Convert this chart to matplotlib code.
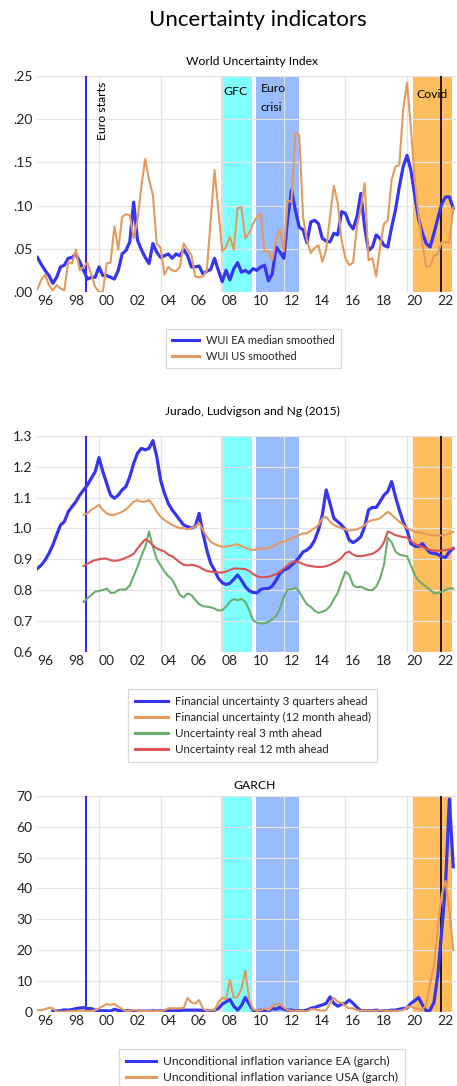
import numpy as np
import matplotlib.pyplot as plt
from matplotlib.lines import Line2D

plt.rcParams['font.family'] = ['Lato', 'DejaVu Sans']

# ---- data (quarterly) ----
wui_start = 1996.0
wui_ea = [0.040, 0.032, 0.025, 0.019,
          0.010, 0.017, 0.029, 0.031,
          0.039, 0.040, 0.044, 0.035,
          0.025, 0.015, 0.017, 0.017,
          0.029, 0.019, 0.019, 0.017,
          0.015, 0.025, 0.044, 0.048,
          0.058, 0.104, 0.060, 0.049,
          0.040, 0.033, 0.056, 0.046,
          0.040, 0.042, 0.044, 0.039,
          0.044, 0.042, 0.049, 0.042,
          0.029, 0.029, 0.030, 0.021,
          0.024, 0.026, 0.039, 0.025,
          0.012, 0.025, 0.014, 0.027,
          0.034, 0.023, 0.025, 0.022,
          0.027, 0.025, 0.029, 0.031,
          0.013, 0.021, 0.052, 0.046,
          0.039, 0.085, 0.118, 0.095,
          0.075, 0.072, 0.057, 0.081,
          0.083, 0.079, 0.062, 0.059,
          0.058, 0.068, 0.066, 0.093,
          0.091, 0.079, 0.073, 0.087,
          0.114, 0.075, 0.048, 0.052,
          0.066, 0.062, 0.054, 0.052,
          0.075, 0.095, 0.122, 0.145,
          0.158, 0.141, 0.112, 0.085,
          0.068, 0.056, 0.052, 0.068,
          0.085, 0.102, 0.110, 0.110,
          0.097]
wui_us = [0.003, 0.014, 0.020, 0.008,
          0.002, 0.008, 0.004, 0.002,
          0.035, 0.033, 0.049, 0.025,
          0.029, 0.034, 0.020, 0.006,
          0.000, 0.000, 0.033, 0.034,
          0.076, 0.049, 0.087, 0.090,
          0.089, 0.062, 0.083, 0.122,
          0.154, 0.130, 0.112, 0.056,
          0.051, 0.020, 0.029, 0.025,
          0.024, 0.029, 0.056, 0.049,
          0.043, 0.018, 0.017, 0.018,
          0.025, 0.083, 0.141, 0.095,
          0.047, 0.052, 0.064, 0.049,
          0.097, 0.098, 0.062, 0.068,
          0.079, 0.087, 0.091, 0.047,
          0.047, 0.037, 0.060, 0.072,
          0.047, 0.106, 0.104, 0.184,
          0.182, 0.087, 0.060, 0.045,
          0.051, 0.054, 0.035, 0.049,
          0.087, 0.123, 0.103, 0.060,
          0.039, 0.031, 0.034, 0.076,
          0.097, 0.126, 0.037, 0.039,
          0.018, 0.052, 0.079, 0.083,
          0.130, 0.145, 0.147, 0.211,
          0.242, 0.190, 0.130, 0.090,
          0.055, 0.029, 0.030, 0.042,
          0.044, 0.058, 0.058, 0.057,
          0.098]

fin_3q_start = 1996.0
fin_3q = [0.870, 0.881, 0.897, 0.919,
          0.946, 0.979, 1.011, 1.022,
          1.054, 1.071, 1.087, 1.108,
          1.125, 1.141, 1.163, 1.184,
          1.230, 1.184, 1.146, 1.108,
          1.098, 1.108, 1.125, 1.136,
          1.168, 1.211, 1.244, 1.260,
          1.255, 1.260, 1.285, 1.233,
          1.157, 1.114, 1.081, 1.060,
          1.044, 1.027, 1.011, 1.006,
          1.001, 1.006, 1.049, 0.984,
          0.930, 0.887, 0.865, 0.838,
          0.824, 0.818, 0.822, 0.835,
          0.849, 0.832, 0.811, 0.798,
          0.792, 0.791, 0.802, 0.805,
          0.805, 0.813, 0.832, 0.854,
          0.865, 0.870, 0.881, 0.892,
          0.906, 0.924, 0.930, 0.941,
          0.962, 0.995, 1.044, 1.125,
          1.081, 1.033, 1.022, 1.011,
          0.995, 0.962, 0.954, 0.962,
          0.973, 1.006, 1.060, 1.068,
          1.068, 1.087, 1.108, 1.120,
          1.152, 1.103, 1.060, 1.022,
          0.995, 0.951, 0.943, 0.941,
          0.951, 0.935, 0.921, 0.919,
          0.916, 0.908, 0.906, 0.924,
          0.935]

jln_start = 1999.0
fin_12m = [1.044, 1.049, 1.060, 1.068,
           1.076, 1.060, 1.049, 1.044,
           1.044, 1.049, 1.054, 1.062,
           1.073, 1.087, 1.092, 1.087,
           1.087, 1.092, 1.076, 1.054,
           1.038, 1.027, 1.019, 1.011,
           1.006, 1.001, 1.001, 0.997,
           1.001, 1.006, 1.017, 0.995,
           0.973, 0.957, 0.949, 0.944,
           0.941, 0.941, 0.943, 0.946,
           0.949, 0.943, 0.937, 0.932,
           0.930, 0.932, 0.935, 0.935,
           0.935, 0.941, 0.946, 0.955,
           0.957, 0.962, 0.968, 0.973,
           0.979, 0.984, 0.984, 0.993,
           1.001, 1.011, 1.033, 1.038,
           1.022, 1.011, 1.006, 1.001,
           0.997, 0.993, 0.995, 0.997,
           1.003, 1.011, 1.022, 1.027,
           1.029, 1.033, 1.044, 1.054,
           1.044, 1.033, 1.022, 1.011,
           1.001, 0.995, 0.989, 0.989,
           0.984, 0.982, 0.979, 0.977,
           0.977, 0.977, 0.979, 0.984,
           0.989]
real_3m = [0.762, 0.773, 0.784, 0.795,
           0.797, 0.800, 0.805, 0.791,
           0.791, 0.800, 0.802, 0.802,
           0.815, 0.845, 0.875, 0.910,
           0.940, 0.990, 0.940, 0.900,
           0.880, 0.860, 0.845, 0.835,
           0.810, 0.784, 0.776, 0.789,
           0.784, 0.768, 0.754, 0.748,
           0.746, 0.744, 0.740, 0.733,
           0.735, 0.746, 0.762, 0.771,
           0.767, 0.771, 0.762, 0.735,
           0.703, 0.694, 0.692, 0.692,
           0.697, 0.705, 0.716, 0.740,
           0.778, 0.802, 0.802, 0.808,
           0.795, 0.773, 0.754, 0.746,
           0.733, 0.726, 0.730, 0.735,
           0.748, 0.770, 0.791, 0.827,
           0.860, 0.849, 0.816, 0.809,
           0.811, 0.805, 0.800, 0.800,
           0.811, 0.838, 0.881, 0.970,
           0.955, 0.925, 0.915, 0.912,
           0.910, 0.880, 0.850, 0.830,
           0.820, 0.810, 0.800, 0.790,
           0.790, 0.795, 0.800, 0.805,
           0.805]
real_12m = [0.878, 0.885, 0.892, 0.897,
            0.900, 0.902, 0.902, 0.897,
            0.895, 0.896, 0.900, 0.905,
            0.910, 0.918, 0.935, 0.950,
            0.965, 0.958, 0.945, 0.935,
            0.930, 0.925, 0.915, 0.910,
            0.900, 0.890, 0.882, 0.880,
            0.882, 0.880, 0.875, 0.868,
            0.862, 0.860, 0.858, 0.857,
            0.857, 0.860, 0.865, 0.870,
            0.870, 0.869, 0.868, 0.862,
            0.852, 0.845, 0.842, 0.842,
            0.843, 0.847, 0.852, 0.860,
            0.870, 0.880, 0.890, 0.893,
            0.890, 0.885, 0.880, 0.878,
            0.876, 0.875, 0.875, 0.878,
            0.882, 0.888, 0.895, 0.905,
            0.920, 0.925, 0.915, 0.910,
            0.910, 0.912, 0.915, 0.918,
            0.925, 0.935, 0.955, 0.990,
            0.985, 0.978, 0.975, 0.972,
            0.970, 0.960, 0.950, 0.945,
            0.940, 0.935, 0.930, 0.928,
            0.928, 0.928, 0.930, 0.932,
            0.935]

garch_ea_start = 1997.0
garch_ea = [0.2, 0.2, 0.3, 0.6,
            0.5, 0.7, 1.0, 1.2,
            1.3, 1.0, 1.0, 0.5,
            0.3, 0.3, 0.3, 0.2,
            0.8, 0.4, 0.3, 0.3,
            0.3, 0.2, 0.2, 0.2,
            0.2, 0.2, 0.3, 0.2,
            0.3, 0.3, 0.3, 0.3,
            0.3, 0.4, 0.5, 0.5,
            0.5, 0.5, 0.5, 0.4,
            0.3, 0.3, 0.5, 1.0,
            2.5, 3.2, 4.0, 1.8,
            0.5, 2.0, 4.6, 2.5,
            0.5, 0.0, 0.5, 0.3,
            0.3, 1.1, 0.8, 1.4,
            0.8, 0.5, 0.5, 0.3,
            0.3, 0.3, 0.5, 1.1,
            1.4, 1.8, 2.2, 2.7,
            4.8, 2.7, 1.8, 2.4,
            2.7, 3.8, 2.7, 1.4,
            0.3, 0.3, 0.3, 0.3,
            0.5, 0.3, 0.3, 0.3,
            0.5, 0.5, 0.8, 1.0,
            1.2, 2.7, 3.6, 4.6,
            2.2, 0.2, 0.5, 3.0,
            12.0, 26.0, 41.0, 69.0,
            47.0]
garch_us_start = 1996.0
garch_us = [0.5, 0.5, 0.8, 1.3,
            1.1, 0.0, 0.0, 0.0,
            0.2, 0.2, 0.3, 0.3,
            0.3, 0.2, 0.2, 0.5,
            1.1, 1.8, 2.5, 2.2,
            2.5, 1.6, 0.9, 0.2,
            0.3, 0.5, 0.3, 0.2,
            0.2, 0.3, 0.2, 0.2,
            0.2, 0.5, 1.1, 1.1,
            1.1, 1.1, 1.2, 4.5,
            3.0, 2.7, 3.8, 1.0,
            0.3, 0.5, 0.5, 3.0,
            4.5, 4.0, 10.3, 4.5,
            4.8, 7.5, 13.3, 4.0,
            0.8, 0.3, 0.5, 1.1,
            0.5, 1.6, 2.4, 2.4,
            1.4, 0.5, 0.3, 0.3,
            0.3, 0.3, 0.0, 0.8,
            0.8, 0.5, 0.3, 0.5,
            2.7, 4.5, 3.2, 2.9,
            1.8, 1.1, 1.1, 0.5,
            0.3, 0.3, 0.3, 0.3,
            0.3, 0.5, 0.3, 0.3,
            0.3, 0.3, 0.3, 0.5,
            1.4, 1.8, 1.1, 0.8,
            0.5, 2.5, 9.0, 15.0,
            27.0, 38.0, 42.5, 33.0,
            20.0]

year_labels = ['96', '98', '00', '02', '04', '06', '08', '10',
               '12', '14', '16', '18', '20', '22']

BLUE = '#3535f2'
ORANGE = '#e49a5e'
GREEN = '#6aae6e'
RED = '#da5454'


def quarters(start, values):
    return start + 0.25*np.arange(len(values))


W, H = 457., 1086.
fig = plt.figure(figsize=(W/100, H/100), dpi=100)


def add_panel(top, bottom):
    left, right = 37.4, 456.3
    return fig.add_axes([left/W, 1 - bottom/H, (right - left)/W, (bottom - top)/H])


def decorate(ax, ylim, yticks, ylabels):
    ax.set_xlim(1996.0, 2023.2)
    ax.set_ylim(*ylim)
    # shaded episodes
    ax.axvspan(2007.92, 2009.95, color='#80ffff', lw=0, zorder=0.1)
    ax.axvspan(2010.17, 2013.0, color='#99bcff', lw=0, zorder=0.1)
    ax.axvspan(2020.41, 2022.95, color='#ffbd5e', lw=0, zorder=0.1)
    ax.axvline(1999.18, color='#0000ff', lw=1.2, zorder=2)
    ax.axvline(2022.2, color='black', lw=1.2, zorder=2)
    ax.set_axisbelow(True)
    ax.set_xticks([1996.5 + 2*i for i in range(len(year_labels))])
    ax.set_xticklabels(year_labels)
    ax.set_xticks(range(2000, 2021, 4), minor=True)
    ax.set_yticks(yticks)
    ax.set_yticklabels(ylabels)
    ax.grid(True, axis='y', which='major', color='#e3e3e3', lw=0.9)
    ax.grid(True, axis='x', which='minor', color='#e3e3e3', lw=0.9)
    ax.tick_params(which='both', length=0, labelsize=10, colors='#222222')
    ax.tick_params(axis='x', pad=2.5)
    ax.tick_params(axis='y', pad=3.5)
    for s in ax.spines.values():
        s.set_visible(False)


def legend(ax, handles, labels, x, y, size, hlen, spacing):
    lg = ax.legend(handles, labels, loc='upper left', bbox_to_anchor=(x/W, 1 - y/H),
                   bbox_transform=fig.transFigure, fontsize=size, frameon=True,
                   fancybox=False, edgecolor='#d9d9d9', framealpha=1,
                   borderaxespad=0, borderpad=0.55, handlelength=hlen,
                   handletextpad=0.6, labelspacing=spacing)
    lg.get_frame().set_linewidth(0.9)
    for t in lg.get_texts():
        t.set_color('#222222')


fig.text(258/W, 1 - 26/H, 'Uncertainty indicators', ha='center', va='baseline',
         fontsize=16, color='black')

# --- World Uncertainty Index ---
ax1 = add_panel(76, 292)
decorate(ax1, (0, 0.25), [0, 0.05, 0.10, 0.15, 0.20, 0.25],
         ['.00', '.05', '.10', '.15', '.20', '.25'])
ax1.plot(quarters(wui_start, wui_ea), wui_ea, color=BLUE, lw=2.3, zorder=3)
ax1.plot(quarters(wui_start, wui_us), wui_us, color=ORANGE, lw=1.5, zorder=3)
ax1.text(2000.2, 0.243, 'Euro starts', rotation=90, ha='center', va='top', fontsize=8.8)
ax1.text(2008.05, 0.2285, 'GFC', ha='left', va='baseline', fontsize=8.8)
ax1.text(2010.5, 0.2320, 'Euro', ha='left', va='baseline', fontsize=8.8)
ax1.text(2010.5, 0.2100, 'crisi', ha='left', va='baseline', fontsize=8.8)
ax1.text(2020.6, 0.2240, 'Covid', ha='left', va='baseline', fontsize=8.8)
fig.text(252/W, 1 - 65/H, 'World Uncertainty Index', ha='center', va='baseline', fontsize=8.7)
legend(ax1, [Line2D([], [], color=BLUE, lw=2.2), Line2D([], [], color=ORANGE, lw=2.2)],
       ['WUI EA median smoothed', 'WUI US smoothed'], 165.7, 329.3, 7.9, 2.5, 0.45)

# --- JLN ---
ax2 = add_panel(436, 651.7)
jl = [0.6, 0.7, 0.8, 0.9, 1.0, 1.1, 1.2, 1.3]
decorate(ax2, (0.6, 1.3), jl, ['%.1f' % v for v in jl])
ax2.plot(quarters(fin_3q_start, fin_3q), fin_3q, color=BLUE, lw=2.3, zorder=3)
ax2.plot(quarters(jln_start, fin_12m), fin_12m, color=ORANGE, lw=1.5, zorder=3)
ax2.plot(quarters(jln_start, real_3m), real_3m, color=GREEN, lw=1.5, zorder=3)
ax2.plot(quarters(jln_start, real_12m), real_12m, color=RED, lw=1.5, zorder=3)
fig.text(252/W, 1 - 415/H, 'Jurado, Ludvigson and Ng (2015)', ha='center', va='baseline', fontsize=8.7)
legend(ax2, [Line2D([], [], color=c, lw=2.2) for c in (BLUE, ORANGE, GREEN, RED)],
       ['Financial uncertainty 3 quarters ahead', 'Financial uncertainty (12 month ahead)',
        'Uncertainty real 3 mth ahead', 'Uncertainty real 12 mth ahead'],
       128.3, 689.3, 8.3, 2.9, 0.45)

# --- GARCH ---
ax3 = add_panel(796, 1011.7)
gt = list(range(0, 71, 10))
decorate(ax3, (0, 70), gt, [str(v) for v in gt])
ax3.plot(quarters(garch_ea_start, garch_ea), garch_ea, color=BLUE, lw=2.3, zorder=3)
ax3.plot(quarters(garch_us_start, garch_us), garch_us, color=ORANGE, lw=1.5, zorder=3)
fig.text(254.5/W, 1 - 789.3/H, 'GARCH', ha='center', va='baseline', fontsize=8.7)
legend(ax3, [Line2D([], [], color=BLUE, lw=2.2), Line2D([], [], color=ORANGE, lw=2.2)],
       ['Unconditional inflation variance EA (garch)', 'Unconditional inflation variance USA (garch)'],
       119.3, 1049.3, 8.7, 2.5, 0.4)

fig.savefig('out.png', dpi=100)
